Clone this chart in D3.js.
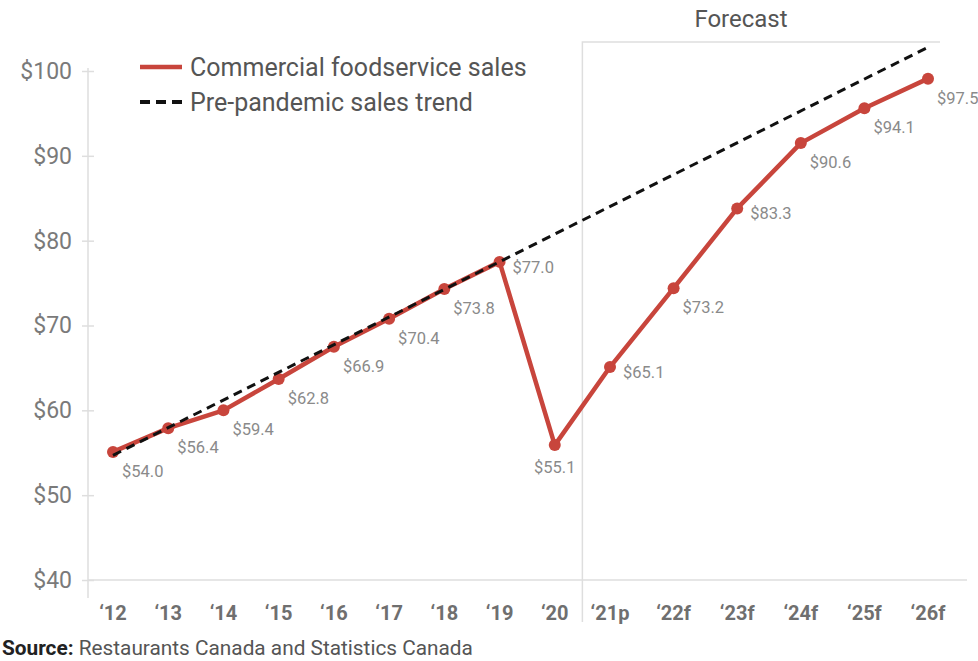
<!DOCTYPE html>
<html lang="en">
<head>
<meta charset="UTF-8">
<title>Commercial foodservice sales</title>
<script src="https://d3js.org/d3.v7.min.js"></script>
<style>
  body { margin: 0; background: #fff; font-family: Roboto, Arial, sans-serif; }
  svg { display: block; }
</style>
</head>
<body>
<div class="chart"></div>
<script>
// données
const years = ["\u201812","\u201813","\u201814","\u201815","\u201816","\u201817","\u201818","\u201819","\u201820",
               "\u201821p","\u201822f","\u201823f","\u201824f","\u201825f","\u201826f"];
const sales = [55.1, 57.9, 60.0, 63.7, 67.5, 70.8, 74.3, 77.5, 55.9, 65.1, 74.4, 83.8, 91.5, 95.6, 99.1];
const salesLabels = ["$54.0","$56.4","$59.4","$62.8","$66.9","$70.4","$73.8","$77.0","$55.1",
                     "$65.1","$73.2","$83.3","$90.6","$94.1","$97.5"];
const labelSide = ["br","br","br","br","br","br","br","r","b","r","br","r","br","br","br"];
const trendYears = ["\u201812","\u201826f"];
const trendValues = [54.7, 102.8];
const yTicks = [40, 50, 60, 70, 80, 90, 100];
const forecastStart = 9; // index of '21p

const W = 978, H = 661;
const red = "#c8453c", grey = "#dedede";

const svg = d3.select('.chart').append('svg').attr('width', W).attr('height', H);

// échelles : les années de prévision sont plus espacées
const xi = d3.scaleLinear().domain([0, 9, 14]).range([113, 610, 928]);
const x = d => xi(years.indexOf(d));
const y = d3.scaleLinear().domain([40, 100]).range([580, 71]);

// axe Y
const yAxis = svg.append('g').attr('transform', 'translate(88,0)')
  .call(d3.axisLeft(y).tickValues(yTicks).tickFormat(d => '$' + d).tickSize(6).tickPadding(10));
yAxis.select('.domain').remove();
yAxis.selectAll('.tick line').attr('x1', -6).attr('x2', 6).attr('stroke', grey).attr('stroke-width', 1.5);
yAxis.selectAll('.tick text').attr('fill', '#7a7a7a').style('font-size', '23px')
  .style('font-family', 'Roboto, sans-serif');
svg.append('line').attr('x1', 88).attr('x2', 88).attr('y1', 68).attr('y2', 598)
  .attr('stroke', grey).attr('stroke-width', 1.5);

// axe X
svg.append('line').attr('x1', 88).attr('x2', 967).attr('y1', y(40)).attr('y2', y(40))
  .attr('stroke', grey).attr('stroke-width', 1.5);
svg.selectAll('.xlab').data(years).enter().append('text')
  .attr('class', 'xlab')
  .attr('x', d => x(d)).attr('y', 620)
  .attr('text-anchor', 'middle')
  .attr('fill', '#6f6f6f').style('font-size', '20px').style('font-weight', 'bold')
  .text(d => d);

// zone de prévision
const fx = (xi(forecastStart - 1) + xi(forecastStart)) / 2;
svg.append('path')
  .attr('d', `M${fx},622 V42 H940`)
  .attr('fill', 'none').attr('stroke', grey).attr('stroke-width', 1.5);
svg.append('text').attr('x', 741).attr('y', 27)
  .attr('text-anchor', 'middle').attr('fill', '#555')
  .style('font-size', '24px').text('Forecast');

// tendance pré-pandémique
const trend = trendYears.map((d, i) => ({ yr: d, v: trendValues[i] }));

// série principale
const pts = years.map((d, i) => ({ yr: d, v: sales[i], lab: salesLabels[i], side: labelSide[i] }));
const line = d3.line().x(d => x(d.yr)).y(d => y(d.v));

svg.append('path').datum(pts).attr('d', line)
  .attr('fill', 'none').attr('stroke', red).attr('stroke-width', 4.5).attr('stroke-linejoin', 'round');
svg.selectAll('.pt').data(pts).enter().append('circle')
  .attr('class', 'pt')
  .attr('cx', d => x(d.yr)).attr('cy', d => y(d.v)).attr('r', 6).attr('fill', red);

svg.append('path').datum(trend).attr('d', line)
  .attr('fill', 'none').attr('stroke', '#111').attr('stroke-width', 3).attr('stroke-dasharray', '9,6');

svg.selectAll('.vlab').data(pts).enter().append('text')
  .attr('class', 'vlab')
  .attr('x', d => x(d.yr) + (d.side == 'b' ? 0 : d.side == 'r' ? 13 : 9))
  .attr('y', d => y(d.v) + (d.side == 'r' ? 11 : d.side == 'b' ? 28 : 25))
  .attr('text-anchor', d => d.side == 'b' ? 'middle' : 'start')
  .attr('fill', '#8a8a8a').style('font-size', '16.5px')
  .text(d => d.lab);

// légende
const leg = svg.append('g');
leg.append('line').attr('x1', 140).attr('x2', 182).attr('y1', 67).attr('y2', 67)
  .attr('stroke', red).attr('stroke-width', 4.5);
leg.append('text').attr('x', 190).attr('y', 76).attr('fill', '#555').style('font-size', '25px')
  .text('Commercial foodservice sales');
leg.append('line').attr('x1', 140).attr('x2', 182).attr('y1', 102).attr('y2', 102)
  .attr('stroke', '#111').attr('stroke-width', 4).attr('stroke-dasharray', '10,6');
leg.append('text').attr('x', 190).attr('y', 111).attr('fill', '#555').style('font-size', '25px')
  .text('Pre-pandemic sales trend');

// source
const src = svg.append('text').attr('x', 2).attr('y', 655).style('font-size', '20.8px').attr('fill', '#555');
src.append('tspan').style('font-weight', 'bold').attr('fill', '#222').text('Source:');
src.append('tspan').text(' Restaurants Canada and Statistics Canada');
</script>
</body>
</html>
